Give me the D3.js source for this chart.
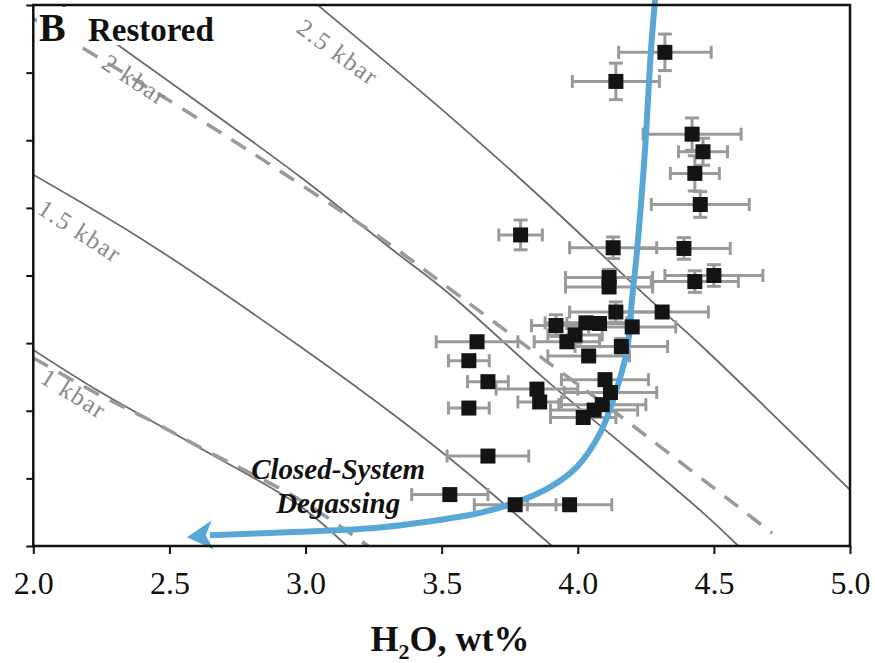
<!DOCTYPE html>
<html>
<head>
<meta charset="utf-8">
<script src="https://cdn.jsdelivr.net/npm/d3@7"></script>
<style>
body { margin: 0; background: #fff; }
svg { display: block; font-family: "Liberation Serif", "DejaVu Serif", serif; }
.x-axis text { font-family: "Liberation Serif", "DejaVu Serif", serif; }
</style>
</head>
<body>
<div id="chart"></div>
<script>
// Melt inclusion data (H2O wt%, CO2 in axis units)
const h2o = [4.32, 4.14, 4.42, 4.46, 4.43, 4.45, 3.79, 4.13, 4.39, 4.50, 4.43, 4.115, 4.115, 4.14, 4.31,
             3.92, 4.03, 4.08, 4.20, 3.99, 3.96, 3.63, 3.60, 4.04, 4.16, 3.67, 3.85, 3.86, 4.10, 4.12,
             3.60, 4.02, 4.06, 4.09, 3.67, 3.53, 3.77, 3.97];
const co2 = [7.30, 6.87, 6.09, 5.83, 5.51, 5.05, 4.60, 4.41, 4.40, 4.00, 3.91, 3.97, 3.83, 3.46, 3.46,
             3.26, 3.30, 3.29, 3.24, 3.12, 3.02, 3.02, 2.74, 2.81, 2.95, 2.43, 2.32, 2.13, 2.46, 2.27,
             2.04, 1.90, 2.01, 2.09, 1.33, 0.76, 0.61, 0.61];
const h2oErr = [0.17, 0.16, 0.18, 0.09, 0.09, 0.18, 0.08, 0.16, 0.17, 0.18, 0.16, 0.16, 0.16, 0.17, 0.17,
                0.09, 0.15, 0.12, 0.16, 0.10, 0.12, 0.15, 0.075, 0.15, 0.17, 0.075, 0.15, 0.08, 0.16, 0.17,
                0.075, 0.12, 0.16, 0.16, 0.15, 0.14, 0.15, 0.155];
const co2Err = [0.27, 0.27, 0.24, 0.20, 0.26, 0.19, 0.22, 0.16, 0.16, 0.16, 0.16, 0.12, 0, 0.15, 0,
                0.16, 0, 0, 0, 0.12, 0, 0, 0, 0, 0.12, 0, 0, 0, 0, 0,
                0, 0, 0, 0, 0, 0, 0, 0];

// Isobars (solid) and dashed 2 / 1 kbar curves
const iso25H2O = [3.0, 3.046, 3.531, 3.873, 4.266, 4.449, 5.0];
const iso25CO2 = [8.15, 7.995, 6.35, 5.12, 3.64, 2.98, 0.83];
const iso20H2O = [2.07, 2.293, 2.980, 3.310, 3.531, 3.873, 4.082, 4.449, 4.59];
const iso20CO2 = [8.1, 7.46, 5.46, 4.41, 3.72, 2.49, 1.78, 0.53, 0.0];
const iso20dH2O = [2.0, 2.146, 2.642, 2.980, 3.299, 3.567, 3.879, 4.166, 4.714];
const iso20dCO2 = [7.80, 7.45, 6.23, 5.35, 4.49, 3.69, 2.75, 1.89, 0.19];
const iso15H2O = [2.0, 2.429, 2.980, 3.347, 3.604, 3.905];
const iso15CO2 = [5.49, 4.46, 2.95, 1.87, 1.05, 0.0];
const iso10H2O = [2.0, 2.245, 2.612, 2.980, 3.152];
const iso10CO2 = [2.90, 2.28, 1.45, 0.59, 0.0];
const iso10dH2O = [2.0, 2.245, 2.429, 2.612, 2.980, 3.230];
const iso10dCO2 = [2.78, 2.23, 1.86, 1.46, 0.68, 0.0];

// Closed-system degassing path (last value is the arrow tip)
const degasH2O = [4.284, 4.269, 4.247, 4.218, 4.199, 4.181, 4.130, 4.082, 3.997, 3.898, 3.777, 3.641, 3.531, 3.263, 2.980, 2.649, 2.564];
const degasCO2 = [8.08, 7.34, 5.86, 4.38, 3.64, 2.90, 2.16, 1.67, 1.17, 0.87, 0.65, 0.49, 0.41, 0.27, 0.21, 0.16, 0.13];

const isobarNames = ["2.5 kbar", "2 kbar", "1.5 kbar", "1 kbar"];
const xTicks = [2.0, 2.5, 3.0, 3.5, 4.0, 4.5, 5.0];
const yTicks = [0, 1, 2, 3, 4, 5, 6, 7, 8];

const W = 875, H = 663;
const PLOT = { left: 33.3, right: 850, top: 5, bottom: 546 };
const SERIF = "'Liberation Serif', 'DejaVu Serif', serif";

const svg = d3.select("#chart").append("svg")
    .attr("width", W)
    .attr("height", H);

svg.append("defs").append("clipPath").attr("id", "plotClip")
    .append("rect")
    .attr("x", PLOT.left).attr("y", PLOT.top)
    .attr("width", PLOT.right - PLOT.left)
    .attr("height", PLOT.bottom - PLOT.top);

const x = d3.scaleLinear().domain([2, 5]).range([PLOT.left, PLOT.right]);
const y = d3.scaleLinear().domain([0, 8]).range([PLOT.bottom, PLOT.top]);

const lineGen = d3.line()
    .x(d => x(d[0]))
    .y(d => y(d[1]))
    .curve(d3.curveCatmullRom.alpha(0.5));

// --------------- ISOBARS ---------------
const isoG = svg.append("g").attr("clip-path", "url(#plotClip)");
const curves = [
    { xs: iso25H2O, ys: iso25CO2, dashed: false },
    { xs: iso20H2O, ys: iso20CO2, dashed: false },
    { xs: iso15H2O, ys: iso15CO2, dashed: false },
    { xs: iso10H2O, ys: iso10CO2, dashed: false },
    { xs: iso20dH2O, ys: iso20dCO2, dashed: true },
    { xs: iso10dH2O, ys: iso10dCO2, dashed: true }
];
curves.forEach(c => {
    isoG.append("path")
        .datum(d3.zip(c.xs, c.ys))
        .attr("d", lineGen)
        .attr("fill", "none")
        .attr("stroke", c.dashed ? "#9a9a9a" : "#6b6b6b")
        .attr("stroke-width", c.dashed ? 3.5 : 1.8)
        .attr("stroke-dasharray", c.dashed ? "17,12" : null);
});

// isobar labels: anchor (data coords) and angle
const labelAt = [[2.961, 7.61, 36], [2.245, 7.08, 33], [2.01, 4.93, 33], [2.02, 2.43, 32]];
isobarNames.forEach((name, i) => {
    const [lx, ly, ang] = labelAt[i];
    svg.append("text")
        .attr("transform", `translate(${x(lx)},${y(ly)}) rotate(${ang})`)
        .attr("font-size", 25)
        .attr("letter-spacing", 1.5)
        .attr("fill", "#8a8a8a")
        .text(name);
});

// --------------- ERROR BARS ---------------
const errG = svg.append("g")
    .attr("stroke", "#9a9a9a")
    .attr("stroke-width", 3)
    .attr("fill", "none");
h2o.forEach((v, i) => {
    const cy = y(co2[i]);
    const x0 = x(v - h2oErr[i]), x1 = x(v + h2oErr[i]);
    errG.append("line").attr("x1", x0).attr("x2", x1).attr("y1", cy).attr("y2", cy);
    errG.append("line").attr("x1", x0).attr("x2", x0).attr("y1", cy - 6.5).attr("y2", cy + 6.5);
    errG.append("line").attr("x1", x1).attr("x2", x1).attr("y1", cy - 6.5).attr("y2", cy + 6.5);
    if (co2Err[i] > 0) {
        const cx = x(v);
        const y0 = y(co2[i] - co2Err[i]), y1 = y(co2[i] + co2Err[i]);
        errG.append("line").attr("x1", cx).attr("x2", cx).attr("y1", y0).attr("y2", y1);
        errG.append("line").attr("x1", cx - 7).attr("x2", cx + 7).attr("y1", y0).attr("y2", y0);
        errG.append("line").attr("x1", cx - 7).attr("x2", cx + 7).attr("y1", y1).attr("y2", y1);
    }
});

// --------------- DEGASSING PATH ---------------
const BLUE = "#58a7d7";
const degas = d3.zip(degasH2O, degasCO2);
svg.append("path")
    .datum(degas.slice(0, -1))
    .attr("d", lineGen)
    .attr("fill", "none")
    .attr("stroke", BLUE)
    .attr("stroke-width", 6);

const tip = degas[degas.length - 1];
const base = degas[degas.length - 2];
const tx = x(tip[0]), ty = y(tip[1]);
const bx = x(base[0]), by = y(base[1]);
const len = Math.hypot(tx - bx, ty - by);
const ux = (tx - bx) / len, uy = (ty - by) / len;
const nx = -uy, ny = ux;
const headLen = 26, headHalf = 14.5, notch = 19;
const head = [
    [tx, ty],
    [tx - ux * headLen + nx * headHalf, ty - uy * headLen + ny * headHalf],
    [tx - ux * notch, ty - uy * notch],
    [tx - ux * headLen - nx * headHalf, ty - uy * headLen - ny * headHalf]
];
svg.append("path")
    .attr("d", "M" + head.map(p => p.join(",")).join("L") + "Z")
    .attr("fill", BLUE);

// --------------- DATA POINTS ---------------
svg.append("g").selectAll("rect")
    .data(d3.zip(h2o, co2))
    .enter()
    .append("rect")
    .attr("x", d => x(d[0]) - 7.5)
    .attr("y", d => y(d[1]) - 7.5)
    .attr("width", 15)
    .attr("height", 15)
    .attr("fill", "#141414");

// --------------- TEXT ANNOTATIONS ---------------
svg.append("text")
    .attr("x", x(3.12)).attr("y", y(0.99))
    .attr("text-anchor", "middle")
    .attr("font-size", 29).attr("font-weight", "bold").attr("font-style", "italic")
    .attr("fill", "#111")
    .text("Closed-System");
svg.append("text")
    .attr("x", x(3.12)).attr("y", y(0.49))
    .attr("text-anchor", "middle")
    .attr("font-size", 29).attr("font-weight", "bold").attr("font-style", "italic")
    .attr("fill", "#111")
    .text("Degassing");

// panel label with white backing
svg.append("rect")
    .attr("x", 37).attr("y", 7).attr("width", 181).attr("height", 38)
    .attr("fill", "#fff");
svg.append("text")
    .attr("x", 39).attr("y", 41)
    .attr("font-size", 40).attr("font-weight", "bold").attr("fill", "#111")
    .text("B");
svg.append("text")
    .attr("x", 88).attr("y", 41)
    .attr("font-size", 33).attr("font-weight", "bold").attr("fill", "#111")
    .text("Restored");

// --------------- AXES ---------------
svg.append("g")
    .attr("class", "x-axis")
    .attr("transform", `translate(0,${PLOT.bottom})`)
    .call(d3.axisBottom(x).tickValues(xTicks).tickSize(8).tickPadding(17).tickFormat(d3.format(".1f")))
    .attr("font-family", SERIF)
    .attr("font-size", 32)
    .call(g => g.select(".domain").remove())
    .call(g => g.selectAll("line").attr("stroke", "#111").attr("stroke-width", 2))
    .call(g => g.selectAll("text").attr("fill", "#111"));

svg.append("g")
    .attr("transform", `translate(${PLOT.left},0)`)
    .call(d3.axisLeft(y).tickValues(yTicks).tickSize(7).tickFormat(""))
    .call(g => g.select(".domain").remove())
    .call(g => g.selectAll("line").attr("stroke", "#111").attr("stroke-width", 2));

svg.append("rect")
    .attr("x", PLOT.left).attr("y", PLOT.top)
    .attr("width", PLOT.right - PLOT.left)
    .attr("height", PLOT.bottom - PLOT.top)
    .attr("fill", "none")
    .attr("stroke", "#111")
    .attr("stroke-width", 2.5);

// axis title
const title = svg.append("text")
    .attr("x", 450).attr("y", 651)
    .attr("text-anchor", "middle")
    .attr("font-size", 36).attr("font-weight", "bold").attr("fill", "#111");
title.append("tspan").text("H");
title.append("tspan").attr("font-size", 22).attr("dy", 8).text("2");
title.append("tspan").attr("dy", -8).text("O, wt%");
</script>
</body>
</html>
